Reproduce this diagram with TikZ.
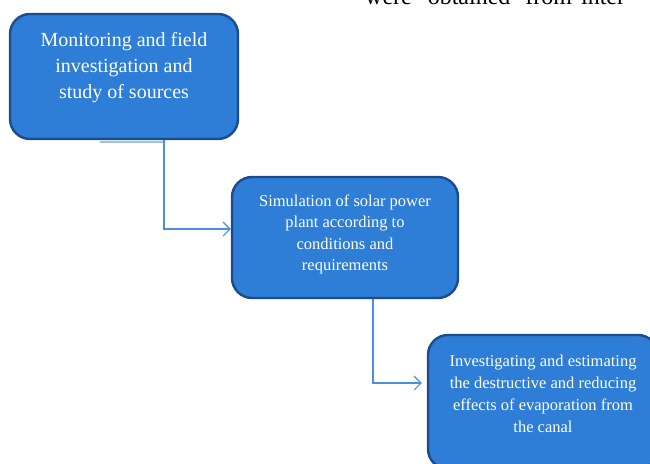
\documentclass[tikz,border=0pt]{standalone}
\usepackage{fontspec}
\setmainfont{Liberation Serif}
\usetikzlibrary{arrows.meta}
\definecolor{boxfill}{HTML}{2E7DD7}
\definecolor{boxline}{HTML}{1C4B8E}
\definecolor{conn}{HTML}{4A8FDE}
\definecolor{shadeblue}{HTML}{9CC3EB}
\tikzset{
  box/.style={draw=boxline, line width=2.4pt, fill=boxfill, rounded corners=20pt, inner sep=0pt},
  boxtext/.style={text=white, align=center, inner sep=0pt},
  link/.style={draw=conn, line width=1.1pt, -{Straight Barb[length=7pt,width=14pt,line width=1.1pt]}}
}
\begin{document}
\begin{tikzpicture}[x=1pt,y=-1pt]
\useasboundingbox (0,0) rectangle (650,463);
\clip (0,0) rectangle (650,463);
% partial text line at top
\node[anchor=base west, inner sep=0pt, font=\fontsize{24}{28}\selectfont] (top) at (365,5)
  {were\hspace{16pt}obtained\hspace{15pt}from\hspace{9pt}inter};
% boxes
\node[box, minimum width=228pt, minimum height=125pt] (b1) at (124,76.5) {};
\node[box, minimum width=226pt, minimum height=121pt] (b2) at (345,237.5) {};
\node[box, minimum width=230pt, minimum height=134pt] (b3) at (543,402) {};
% light bar under box 1
\draw[draw=shadeblue, line width=2.5pt] (100,142) -- (164,142);
% texts
\node[boxtext, font=\fontsize{20}{26}\selectfont] (t1) at (124,68)
  {Monitoring and field\\investigation and\\study of sources};
\node[boxtext, font=\fontsize{16.5}{21.5}\selectfont] (t2) at (345,234.5)
  {Simulation of solar power\\plant according to\\conditions and\\requirements};
\node[boxtext, font=\fontsize{16.5}{22}\selectfont] (t3) at (543,393.5)
  {Investigating and estimating\\the destructive and reducing\\effects of evaporation from\\the canal};
% connectors
\coordinate (c1) at (164,229);
\coordinate (c2) at (373,383);
\draw[link] (b1.south -| c1) |- (b2.west |- c1);
\draw[link] (b2.south -| c2) |- ([xshift=-5pt]b3.west |- c2);
\end{tikzpicture}
\end{document}
